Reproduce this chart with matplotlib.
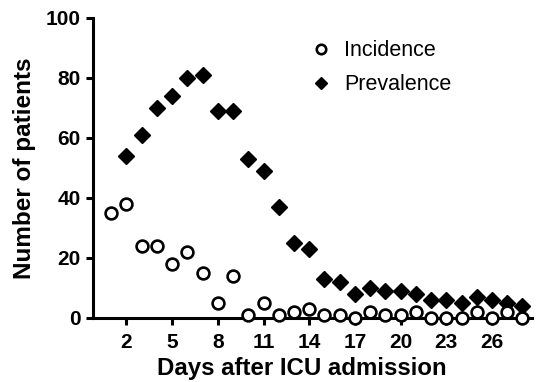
import numpy as np
import matplotlib
matplotlib.use("Agg")
import matplotlib.pyplot as plt

plt.rcParams['font.family'] = ['Liberation Sans', 'DejaVu Sans']

# Dados
dias = list(range(1, 29))
incidencia = [35, 38, 24, 24, 18, 22, 15, 5, 14, 1, 5, 1, 2, 3, 1, 1, 0, 2, 1, 1,
              2, 0, 0, 0, 2, 0, 2, 0]
prevalencia = [np.nan, 54, 61, 70, 74, 80, 81, 69, 69, 53, 49, 37, 25, 23, 13, 12, 8,
               10, 9, 9, 8, 6, 6, 5, 7, 6, 5, 4]
xticks = [2, 5, 8, 11, 14, 17, 20, 23, 26]
yticks = [0, 20, 40, 60, 80, 100]

fig = plt.figure(figsize=(5.37, 3.82), dpi=100)
ax = fig.add_axes([0.173, 0.168, 0.817, 0.785])

ax.plot(dias, prevalencia, linestyle='none', marker='D', markersize=8,
        color='black', label='Prevalence', zorder=3)
ax.plot(dias, incidencia, linestyle='none', marker='o', markersize=8.5,
        markerfacecolor='white', markeredgecolor='black', markeredgewidth=1.9,
        label='Incidence', clip_on=False, zorder=4)

ax.set_xlim(-0.2, 28.6)
ax.set_ylim(0, 100)
ax.set_xticks(xticks)
ax.set_yticks(yticks)

for s in ['top', 'right']:
    ax.spines[s].set_visible(False)
for s in ['left', 'bottom']:
    ax.spines[s].set_linewidth(2.2)
ax.tick_params(width=2.2, length=5, labelsize=15, direction='out', pad=4)
ax.tick_params(axis='x', pad=6)
for lbl in ax.get_xticklabels() + ax.get_yticklabels():
    lbl.set_fontweight('bold')

ax.set_xlabel('Days after ICU admission', fontsize=17.3, fontweight='bold', labelpad=4)
ax.set_ylabel('Number of patients', fontsize=17.5, fontweight='bold', labelpad=7)
ax.xaxis.set_label_coords(0.476, -0.13)

handles, labels = ax.get_legend_handles_labels()
ax.legend(handles[::-1], labels[::-1], loc='upper left', bbox_to_anchor=(0.447, 0.99),
          frameon=False, fontsize=15.5, handletextpad=0.45, handlelength=1.2,
          markerscale=0.8, labelspacing=0.6)

plt.savefig('out.png', dpi=100)
